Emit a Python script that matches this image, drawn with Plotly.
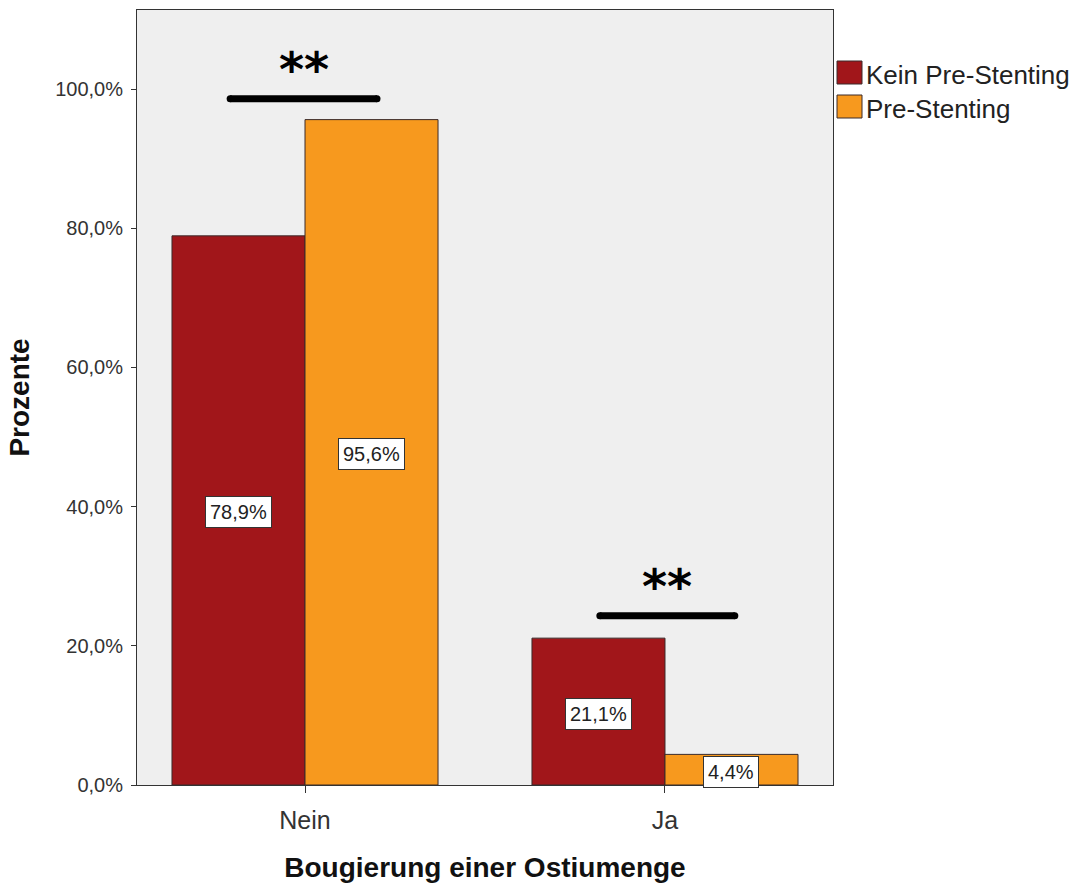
import plotly.graph_objects as go

categories = ["Nein", "Ja"]
kein_pre = [78.9, 21.1]
pre = [95.6, 4.4]
series_names = ["Kein Pre-Stenting", "Pre-Stenting"]
tick_vals = [0, 20, 40, 60, 80, 100]
tick_text = ["0,0%", "20,0%", "40,0%", "60,0%", "80,0%", "100,0%"]
# significance brackets: (x0, x1, y, label) in category units / percent
sig_x0 = [-0.208, 0.819]
sig_x1 = [0.200, 1.194]
sig_y = [98.6, 24.3]
sig_label = ["**", "**"]

RED = "#A1161A"
ORANGE = "#F7991E"
EDGE = "#3a2a2a"
FONT = "Arial, Liberation Sans"
xpos = list(range(len(categories)))
bw = 0.3694
offsets = [-bw / 2, bw / 2]

W, H = 1078, 885
ML, MR, MT, MB = 137, 245, 10, 100
PW, PH = W - ML - MR, H - MT - MB


def px_x(px):
    return (px - ML) / PW


def px_y(py):
    return (H - MB - py) / PH


fig = go.Figure()
for name, vals, col in zip(series_names, [kein_pre, pre], [RED, ORANGE]):
    fig.add_trace(go.Bar(
        x=xpos, y=vals, name=name, showlegend=False,
        marker=dict(color=col, line=dict(color=EDGE, width=1)),
    ))

# value labels in white boxes at the middle of each bar
for vals, off in zip([kein_pre, pre], offsets):
    for xi, v in zip(xpos, vals):
        fig.add_annotation(
            x=xi + off, y=v / 2, yshift=-2, text=f"{v:.1f}%".replace(".", ","), showarrow=False,
            font=dict(family=FONT, size=20, color="#222"),
            bgcolor="white", bordercolor="#333", borderwidth=1, borderpad=4,
        )

# significance bars and stars
for x0, x1, y, lab in zip(sig_x0, sig_x1, sig_y, sig_label):
    fig.add_trace(go.Scatter(
        x=[x0, x1], y=[y, y], mode="lines+markers", showlegend=False, hoverinfo="skip",
        line=dict(color="black", width=7), marker=dict(color="black", size=7),
    ))
    fig.add_annotation(
        x=(x0 + x1) / 2, y=y, yshift=30, text=f"<b>{lab}</b>", showarrow=False,
        font=dict(family="DejaVu Sans", size=48, color="black"),
    )

# legend drawn as swatches + labels to the right of the plot area
leg_top = [61, 95]
for name, col, top in zip(series_names, [RED, ORANGE], leg_top):
    fig.add_shape(type="rect", xref="paper", yref="paper",
                  x0=px_x(837), x1=px_x(862), y0=px_y(top), y1=px_y(top + 23),
                  fillcolor=col, line=dict(color=EDGE, width=1))
    fig.add_annotation(xref="paper", yref="paper", x=px_x(864), y=px_y(top + 14),
                       xanchor="left", yanchor="middle", text=name, showarrow=False,
                       font=dict(family=FONT, size=26, color="#222"))

fig.update_layout(
    width=W, height=H,
    margin=dict(l=ML, r=MR, t=MT, b=MB),
    paper_bgcolor="white", plot_bgcolor="#EFEFEF",
    barmode="group", bargap=0.261, bargroupgap=0,
    font=dict(family=FONT, color="#222"),
    showlegend=False,
)
fig.update_xaxes(
    range=[-0.4667, 1.4667], tickvals=xpos, ticktext=categories, automargin=False,
    ticks="outside", ticklen=7, tickcolor="#333", tickfont=dict(size=25, color="#333"),
    ticklabelstandoff=6,
    showline=True, linecolor="#333", linewidth=1, mirror=True, showgrid=False, zeroline=False,
    title=dict(text="<b>Bougierung einer Ostiumenge</b>", font=dict(size=28, color="#111"), standoff=24),
)
fig.update_yaxes(
    range=[0, 111.35], tickvals=tick_vals, ticktext=tick_text, automargin=False,
    ticks="outside", ticklen=5, tickcolor="#333", tickfont=dict(size=20, color="#333"),
    ticklabelstandoff=4,
    showline=True, linecolor="#333", linewidth=1, mirror=True, showgrid=False, zeroline=False,
    title=dict(text="<b>Prozente</b>", font=dict(size=28, color="#111"), standoff=17),
)

fig.write_html("out.html")
